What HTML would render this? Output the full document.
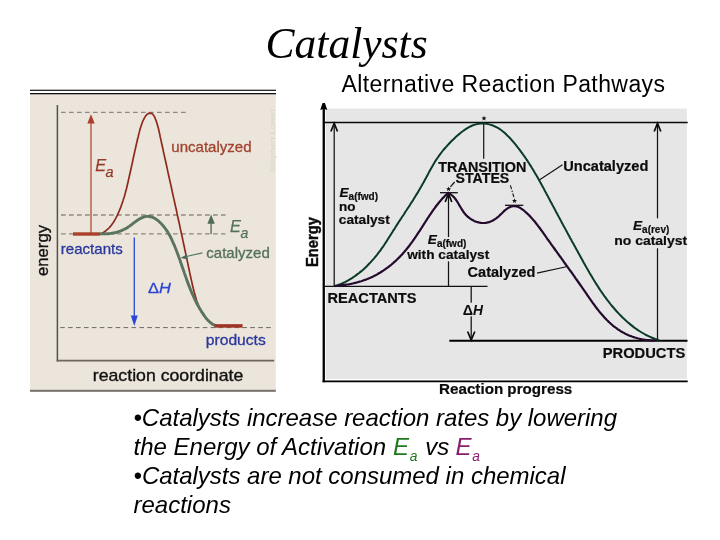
<!DOCTYPE html>
<html><head><meta charset="utf-8"><title>Catalysts</title>
<style>
html,body{margin:0;padding:0;background:#fff;}
body{width:720px;height:540px;overflow:hidden;font-family:"Liberation Sans",sans-serif;}
svg{display:block;position:absolute;left:0;top:0;will-change:transform;}
text{font-family:"Liberation Sans",sans-serif;}
.ser{font-family:"Liberation Serif",serif;}
.lb{fill:#a0442e;stroke:#a0442e;stroke-width:.3px;font-size:14.5px;}
.lg{fill:#54705e;stroke:#54705e;stroke-width:.3px;font-size:14.5px;}
.lbl{fill:#2b389c;stroke:#2b389c;stroke-width:.3px;font-size:14.5px;}
.rb{font-weight:bold;font-size:14.3px;fill:#0c0c0c;stroke:#0c0c0c;stroke-width:.2px;}
.rs{font-weight:bold;font-size:13.5px;fill:#0c0c0c;stroke:#0c0c0c;stroke-width:.2px;}
</style></head><body>
<svg width="720" height="540" viewBox="0 0 720 540">
<rect width="720" height="540" fill="#fff"/>
<!-- title -->
<text class="ser" x="265.6" y="57.5" font-size="44.5" font-style="italic" fill="#000" textLength="162" lengthAdjust="spacingAndGlyphs">Catalysts</text>
<text x="341.5" y="92.2" font-size="23" fill="#000" textLength="323.5" lengthAdjust="spacing">Alternative Reaction Pathways</text>

<!-- LEFT PANEL -->
<g id="left">
<rect x="30" y="94" width="245.8" height="296" fill="#ece5dc"/>
<rect x="30" y="89.7" width="246" height="1.2" fill="#111"/>
<rect x="30" y="93" width="246" height="1.3" fill="#111"/>
<rect x="30" y="389.8" width="245.8" height="2" fill="#76716a"/>
<!-- axes -->
<path d="M57.4 105 V361.5" fill="none" stroke="#55504a" stroke-width="1.5"/>
<path d="M56.65 360.6 H274.2" fill="none" stroke="#6e665c" stroke-width="1.9"/>
<!-- dashed -->
<g stroke="#8e887f" stroke-width="1.3" stroke-dasharray="4.7 3.3" fill="none">
<path d="M61 112.3 H186" stroke="#77726a" stroke-width="1"/>
<path d="M61 215 H225.5"/>
<path d="M61 233.9 H225.5"/>
<path d="M60.2 327.6 H272" stroke="#5e5a52" stroke-width="0.9" stroke-dasharray="4.6 3.32"/>
</g>
<!-- Ea arrow red -->
<path d="M91 234 V122" stroke="#b5624f" stroke-width="1.5" fill="none"/>
<path d="M91 114.2 L87.3 123.4 H94.7 Z" fill="#a8402a"/>
<!-- curves -->
<path d="M100.0 234.0 L101.7 233.3 L103.4 232.4 L104.9 231.5 L106.3 230.4 L107.7 229.2 L109.0 228.0 L110.2 226.6 L111.4 225.2 L112.4 223.8 L113.5 222.2 L114.4 220.7 L115.3 219.1 L116.2 217.4 L117.0 215.8 L117.8 214.1 L118.6 212.5 L119.3 210.8 L120.0 209.1 L120.7 207.4 L121.3 205.7 L121.9 204.0 L122.5 202.2 L123.1 200.5 L123.6 198.8 L124.2 197.0 L124.7 195.3 L125.2 193.5 L125.6 191.8 L126.1 190.0 L126.6 188.3 L127.0 186.5 L127.4 184.7 L127.8 183.0 L128.2 181.2 L128.6 179.4 L129.0 177.6 L129.4 175.8 L129.8 174.1 L130.2 172.3 L130.6 170.5 L131.0 168.7 L131.4 166.9 L131.8 165.1 L132.2 163.4 L132.6 161.6 L132.9 159.8 L133.3 158.0 L133.7 156.2 L134.1 154.4 L134.5 152.7 L134.9 150.9 L135.3 149.1 L135.7 147.3 L136.1 145.5 L136.5 143.8 L136.9 142.0 L137.3 140.2 L137.7 138.5 L138.2 136.7 L138.6 134.9 L139.0 133.2 L139.5 131.4 L139.9 129.7 L140.4 127.9 L141.0 126.2 L141.6 124.4 L142.2 122.7 L142.9 121.0 L143.7 119.3 L144.6 117.7 L145.6 116.0 L146.8 114.6 L148.2 113.6 L149.9 113.1 L151.5 113.4 L152.9 114.3 L153.9 115.7 L154.8 117.4 L155.5 119.2 L156.2 120.9 L156.8 122.7 L157.3 124.4 L157.8 126.2 L158.3 128.0 L158.7 129.7 L159.1 131.5 L159.5 133.3 L159.9 135.1 L160.2 136.9 L160.6 138.6 L161.0 140.4 L161.4 142.2 L161.8 144.0 L162.2 145.7 L162.6 147.5 L163.0 149.3 L163.3 151.1 L163.7 152.9 L164.1 154.6 L164.5 156.4 L164.9 158.2 L165.3 160.0 L165.7 161.8 L166.1 163.5 L166.5 165.3 L166.9 167.1 L167.3 168.9 L167.6 170.7 L168.0 172.4 L168.4 174.2 L168.8 176.0 L169.2 177.8 L169.6 179.6 L170.0 181.3 L170.4 183.1 L170.8 184.9 L171.2 186.7 L171.6 188.5 L172.0 190.2 L172.3 192.0 L172.7 193.8 L173.1 195.6 L173.5 197.4 L173.9 199.1 L174.3 200.9 L174.7 202.7 L175.1 204.5 L175.5 206.3 L175.9 208.0 L176.3 209.8 L176.7 211.6 L177.0 213.4 L177.4 215.2 L177.8 216.9 L178.2 218.7 L178.6 220.5 L179.0 222.3 L179.4 224.1 L179.8 225.9 L180.1 227.6 L180.5 229.4 L180.9 231.2 L181.3 233.0 L181.7 234.8 L182.1 236.5 L182.5 238.3 L182.8 240.1 L183.2 241.9 L183.6 243.7 L184.0 245.5 L184.4 247.2 L184.7 249.0 L185.1 250.8 L185.5 252.6 L185.9 254.4 L186.3 256.2 L186.6 258.0 L187.0 259.7 L187.4 261.5 L187.8 263.3 L188.1 265.1 L188.5 266.9 L188.9 268.7 L189.3 270.5 L189.6 272.2 L190.0 274.0 L190.4 275.8 L190.8 277.6 L191.2 279.4 L191.6 281.1 L192.0 282.9 L192.4 284.7 L192.8 286.5 L193.2 288.2 L193.7 290.0 L194.1 291.8 L194.6 293.5 L195.1 295.3 L195.6 297.0 L196.1 298.7 L196.6 300.5 L197.2 302.2 L197.9 303.9 L198.5 305.6 L199.2 307.3 L200.0 308.9 L200.8 310.6 L201.7 312.2 L202.6 313.8 L203.7 315.3 L204.7 316.8 L205.9 318.3 L207.1 319.6 L208.4 320.9 L209.8 322.1 L211.2 323.2 L212.7 324.2 L214.3 325.0 L215.9 325.7" fill="none" stroke="#8e2a1c" stroke-width="1.7"/>
<path d="M99.9 233.9 L101.3 233.9 L102.7 233.9 L104.1 233.9 L105.5 233.9 L106.8 233.8 L108.2 233.7 L109.5 233.6 L110.8 233.4 L112.1 233.2 L113.4 233.0 L114.7 232.8 L115.9 232.5 L117.2 232.1 L118.4 231.7 L119.6 231.3 L120.8 230.9 L122.0 230.4 L123.2 229.8 L124.4 229.2 L125.6 228.6 L126.8 227.9 L127.9 227.2 L129.1 226.4 L130.2 225.6 L131.4 224.8 L132.5 223.9 L133.6 223.0 L134.8 222.2 L135.9 221.3 L137.0 220.5 L138.2 219.7 L139.4 219.0 L140.5 218.4 L141.7 217.8 L142.9 217.3 L144.1 216.9 L145.4 216.6 L146.6 216.4 L147.9 216.4 L149.1 216.5 L150.3 216.7 L151.5 217.0 L152.7 217.4 L153.9 218.0 L155.0 218.6 L156.1 219.3 L157.2 220.1 L158.3 220.9 L159.3 221.8 L160.3 222.8 L161.3 223.7 L162.2 224.7 L163.1 225.8 L164.0 226.8 L164.8 227.9 L165.6 229.0 L166.4 230.1 L167.1 231.2 L167.9 232.3 L168.5 233.5 L169.2 234.6 L169.9 235.8 L170.5 237.0 L171.1 238.2 L171.7 239.4 L172.2 240.6 L172.8 241.8 L173.3 243.1 L173.9 244.3 L174.4 245.5 L174.9 246.8 L175.4 248.0 L175.9 249.2 L176.4 250.5 L176.9 251.7 L177.3 253.0 L177.8 254.2 L178.3 255.5 L178.7 256.7 L179.2 258.0 L179.6 259.2 L180.1 260.5 L180.5 261.7 L180.9 263.0 L181.4 264.3 L181.8 265.5 L182.2 266.8 L182.7 268.0 L183.1 269.3 L183.5 270.6 L184.0 271.8 L184.4 273.1 L184.8 274.3 L185.3 275.6 L185.7 276.8 L186.2 278.1 L186.6 279.4 L187.1 280.6 L187.5 281.9 L188.0 283.1 L188.4 284.4 L188.9 285.6 L189.4 286.9 L189.9 288.1 L190.4 289.3 L190.9 290.6 L191.4 291.8 L191.9 293.1 L192.5 294.3 L193.0 295.5 L193.6 296.7 L194.1 298.0 L194.7 299.2 L195.3 300.4 L195.9 301.6 L196.5 302.8 L197.1 304.0 L197.8 305.2 L198.4 306.4 L199.1 307.5 L199.8 308.7 L200.5 309.8 L201.2 311.0 L201.9 312.1 L202.6 313.2 L203.4 314.3 L204.1 315.4 L204.9 316.5 L205.7 317.6 L206.5 318.6 L207.4 319.6 L208.2 320.6 L209.2 321.5 L210.1 322.4 L211.2 323.2 L212.2 324.0 L213.4 324.6 L214.6 325.2 L216.0 325.6" fill="none" stroke="#5a7460" stroke-width="2.9"/>
<path d="M73 234 H100" stroke="#a8402a" stroke-width="3.4"/>
<path d="M214.6 325.9 H242.6" stroke="#a03424" stroke-width="3.5"/>
<!-- green Ea arrow -->
<path d="M211.1 234 V222" stroke="#6f7d6c" stroke-width="1.6"/>
<path d="M211.1 214.5 L207.4 223.8 H214.8 Z" fill="#4e6c58"/>
<!-- catalyzed leader -->
<path d="M183 257.2 L202.5 252.9" stroke="#587562" stroke-width="1.1"/>
<path d="M180.5 258 L187 254.2 L187.6 259.4 Z" fill="#4e6c58"/>
<!-- blue arrow -->
<path d="M134.3 237.5 V317" stroke="#2b46d6" stroke-width="1.3"/>
<path d="M134.3 326 L130.8 315.5 H137.8 Z" fill="#2b46d6"/>
<!-- labels -->
<text class="lb" x="171.3" y="151.5" textLength="80.3" lengthAdjust="spacingAndGlyphs">uncatalyzed</text>
<text fill="#963a28" stroke="#963a28" stroke-width="0.25" font-style="italic" font-size="16.3" x="95.2" y="170.8">E<tspan font-size="14.5" x="105.4" y="176.7">a</tspan></text>
<text fill="#54705e" stroke="#54705e" stroke-width="0.25" font-style="italic" font-size="16.3" x="230" y="231.8">E<tspan font-size="14" x="240.5" y="237.9">a</tspan></text>
<text class="lg" x="206.3" y="257.7" textLength="63.5" lengthAdjust="spacingAndGlyphs">catalyzed</text>
<text class="lbl" x="60.8" y="254" textLength="62" lengthAdjust="spacingAndGlyphs">reactants</text>
<text class="lbl" x="205.8" y="344.5" textLength="60" lengthAdjust="spacingAndGlyphs">products</text>
<text class="lbl" x="148" y="292.5" style="font-size:15.5px;fill:#2c44d4;stroke:#2c44d4" textLength="22.8" lengthAdjust="spacingAndGlyphs">Δ<tspan font-style="italic">H</tspan></text>
<text fill="#111" stroke="#111" stroke-width="0.35" font-size="17" x="92.8" y="381.4" textLength="150.5" lengthAdjust="spacingAndGlyphs">reaction coordinate</text>
<text fill="#111" stroke="#111" stroke-width="0.35" font-size="17" transform="translate(48 276) rotate(-90)" textLength="51" lengthAdjust="spacingAndGlyphs">energy</text>
<text fill="#d4d8be" font-size="8" transform="translate(274.6 172.6) rotate(-90)" textLength="64" lengthAdjust="spacingAndGlyphs">Stephen Lower</text>
</g>

<!-- RIGHT PANEL -->
<g id="right">
<rect x="325.6" y="108.6" width="361.3" height="270.3" fill="#e6e6e6"/>
<!-- axes -->
<path d="M323.75 108 V382.2" fill="none" stroke="#000" stroke-width="2.3"/>
<path d="M322.6 381.4 H687.7" fill="none" stroke="#000" stroke-width="1.6"/>
<path d="M322.6 103 H324.9 L327.3 109.9 L323.75 108.7 L320.2 109.9 Z" fill="#000"/>
<path d="M324 122.5 H687.7" stroke="#0a0a0a" stroke-width="1.4"/>
<!-- left thin arrow -->
<path d="M334.2 286 V123.5" stroke="#111" stroke-width="1.25"/>
<path d="M330.9 131.5 L334.2 123.3 L337.5 131.5" stroke="#0a0a0a" stroke-width="1.7" fill="none"/>
<!-- right thin arrow -->
<path d="M657.5 340 V123.5" stroke="#111" stroke-width="1.25"/>
<path d="M654.2 131.5 L657.5 123.3 L660.8 131.5" stroke="#0a0a0a" stroke-width="1.7" fill="none"/>
<!-- reactants / products lines -->
<path d="M324 286.3 H487.5" stroke="#111" stroke-width="1.3"/>
<path d="M449.3 340.8 H687.5" stroke="#000" stroke-width="1.9"/>
<!-- dH -->
<path d="M471.2 286.3 V339.5" stroke="#111" stroke-width="1.25"/>
<path d="M467.6 331.5 L471.2 340 L474.8 331.5" stroke="#0a0a0a" stroke-width="1.7" fill="none"/>
<!-- Ea with catalyst arrow -->
<path d="M448.5 286.3 V194" stroke="#111" stroke-width="1.25"/>
<path d="M445.2 202 L448.5 193.5 L451.8 202" stroke="#0a0a0a" stroke-width="1.7" fill="none"/>
<path d="M440 192.7 H457.8" stroke="#111" stroke-width="1.3"/>
<path d="M505 205.3 H523.3" stroke="#111" stroke-width="1.3"/>
<!-- peak line -->
<path d="M483.7 123.5 V158.7" stroke="#111" stroke-width="1.2"/>
<!-- curves -->
<path d="M334.5 286.4 L336.4 285.7 L338.3 285.0 L340.1 284.3 L342.0 283.5 L343.8 282.6 L345.5 281.8 L347.3 280.8 L349.0 279.9 L350.7 278.8 L352.4 277.8 L354.0 276.7 L355.6 275.6 L357.2 274.4 L358.8 273.2 L360.4 271.9 L361.9 270.7 L363.4 269.4 L364.9 268.0 L366.3 266.7 L367.7 265.3 L369.1 263.8 L370.5 262.4 L371.8 260.9 L373.2 259.4 L374.5 257.9 L375.7 256.4 L377.0 254.8 L378.2 253.2 L379.4 251.7 L380.6 250.1 L381.7 248.4 L382.9 246.8 L384.0 245.2 L385.1 243.5 L386.2 241.9 L387.2 240.2 L388.3 238.5 L389.4 236.8 L390.4 235.2 L391.5 233.5 L392.6 231.8 L393.6 230.1 L394.7 228.5 L395.7 226.8 L396.8 225.1 L397.9 223.4 L398.9 221.8 L400.0 220.1 L401.1 218.5 L402.2 216.8 L403.3 215.2 L404.4 213.5 L405.4 211.8 L406.5 210.2 L407.6 208.5 L408.7 206.9 L409.8 205.2 L410.8 203.5 L411.9 201.9 L413.0 200.2 L414.0 198.5 L415.1 196.8 L416.1 195.1 L417.2 193.4 L418.2 191.7 L419.2 190.0 L420.2 188.3 L421.2 186.6 L422.2 184.8 L423.2 183.1 L424.2 181.3 L425.1 179.5 L426.1 177.8 L427.0 176.0 L428.0 174.2 L428.9 172.4 L429.8 170.7 L430.8 168.9 L431.8 167.2 L432.8 165.5 L433.8 163.8 L434.8 162.1 L435.8 160.4 L436.9 158.8 L438.0 157.2 L439.1 155.6 L440.2 154.1 L441.4 152.5 L442.6 151.0 L443.8 149.5 L445.1 148.0 L446.4 146.6 L447.7 145.1 L449.0 143.7 L450.4 142.2 L451.8 140.8 L453.3 139.4 L454.8 138.0 L456.3 136.6 L457.8 135.2 L459.4 133.9 L461.0 132.5 L462.7 131.3 L464.3 130.1 L466.1 128.9 L467.8 127.8 L469.5 126.9 L471.3 126.0 L473.1 125.2 L475.0 124.6 L476.8 124.1 L478.7 123.7 L480.6 123.5 L482.5 123.4 L484.4 123.5 L486.3 123.7 L488.3 124.1 L490.2 124.6 L492.0 125.2 L493.9 126.0 L495.7 126.8 L497.4 127.7 L499.1 128.7 L500.7 129.8 L502.3 131.0 L503.9 132.3 L505.4 133.6 L506.8 135.0 L508.3 136.4 L509.7 137.8 L511.0 139.3 L512.4 140.8 L513.7 142.3 L515.0 143.9 L516.2 145.4 L517.5 147.0 L518.7 148.6 L519.9 150.2 L521.1 151.8 L522.3 153.4 L523.4 155.0 L524.6 156.6 L525.7 158.3 L526.8 159.9 L527.9 161.6 L529.0 163.2 L530.0 164.9 L531.1 166.6 L532.1 168.3 L533.2 170.0 L534.2 171.7 L535.2 173.4 L536.2 175.1 L537.2 176.8 L538.2 178.5 L539.1 180.3 L540.1 182.0 L541.1 183.7 L542.0 185.5 L543.0 187.2 L543.9 188.9 L544.8 190.7 L545.8 192.4 L546.7 194.2 L547.7 195.9 L548.6 197.7 L549.5 199.4 L550.4 201.2 L551.4 202.9 L552.3 204.7 L553.2 206.4 L554.2 208.2 L555.1 209.9 L556.0 211.7 L557.0 213.4 L557.9 215.2 L558.8 216.9 L559.8 218.7 L560.7 220.4 L561.6 222.2 L562.6 223.9 L563.5 225.7 L564.5 227.4 L565.4 229.1 L566.4 230.9 L567.3 232.6 L568.2 234.4 L569.2 236.1 L570.1 237.9 L571.1 239.6 L572.0 241.4 L573.0 243.1 L573.9 244.8 L574.9 246.6 L575.8 248.3 L576.8 250.1 L577.8 251.8 L578.7 253.6 L579.7 255.3 L580.6 257.0 L581.6 258.8 L582.6 260.5 L583.5 262.3 L584.5 264.0 L585.5 265.7 L586.5 267.5 L587.5 269.2 L588.5 270.9 L589.5 272.7 L590.5 274.4 L591.5 276.1 L592.5 277.8 L593.5 279.5 L594.6 281.2 L595.6 282.9 L596.7 284.6 L597.8 286.3 L598.8 287.9 L599.9 289.6 L601.0 291.2 L602.2 292.9 L603.3 294.5 L604.4 296.1 L605.6 297.7 L606.8 299.3 L608.0 300.9 L609.2 302.4 L610.4 304.0 L611.6 305.5 L612.9 307.0 L614.2 308.5 L615.5 310.0 L616.8 311.5 L618.1 312.9 L619.5 314.4 L620.9 315.8 L622.3 317.2 L623.7 318.6 L625.2 319.9 L626.6 321.3 L628.1 322.6 L629.7 323.9 L631.2 325.1 L632.8 326.4 L634.3 327.6 L636.0 328.7 L637.6 329.9 L639.3 331.0 L640.9 332.0 L642.6 333.0 L644.4 334.0 L646.1 335.0 L647.9 335.8 L649.7 336.7 L651.5 337.5 L653.4 338.2 L655.2 338.9 L657.1 339.5 L659.1 340.1" fill="none" stroke="#0a3a28" stroke-width="2"/>
<path d="M334.3 285.9 L335.7 285.9 L337.0 285.8 L338.3 285.7 L339.6 285.5 L340.9 285.4 L342.2 285.2 L343.5 285.1 L344.8 284.9 L346.1 284.7 L347.4 284.5 L348.7 284.3 L350.0 284.0 L351.2 283.8 L352.5 283.5 L353.8 283.2 L355.1 282.9 L356.3 282.6 L357.6 282.3 L358.8 281.9 L360.1 281.5 L361.3 281.2 L362.5 280.8 L363.8 280.3 L365.0 279.9 L366.2 279.4 L367.4 279.0 L368.6 278.5 L369.8 278.0 L370.9 277.5 L372.1 276.9 L373.3 276.4 L374.4 275.8 L375.6 275.2 L376.7 274.6 L377.8 274.0 L378.9 273.3 L380.0 272.7 L381.1 272.0 L382.2 271.3 L383.3 270.6 L384.3 269.9 L385.4 269.1 L386.4 268.4 L387.5 267.6 L388.5 266.9 L389.5 266.1 L390.5 265.3 L391.5 264.5 L392.5 263.6 L393.5 262.8 L394.4 261.9 L395.4 261.1 L396.3 260.2 L397.3 259.3 L398.2 258.4 L399.1 257.5 L400.0 256.6 L400.9 255.6 L401.8 254.7 L402.7 253.7 L403.5 252.8 L404.4 251.8 L405.2 250.8 L406.1 249.8 L406.9 248.8 L407.7 247.8 L408.5 246.8 L409.3 245.8 L410.1 244.7 L410.8 243.7 L411.6 242.6 L412.4 241.6 L413.1 240.5 L413.9 239.4 L414.6 238.4 L415.3 237.3 L416.1 236.2 L416.8 235.1 L417.5 234.0 L418.2 233.0 L418.9 231.9 L419.7 230.8 L420.4 229.7 L421.1 228.6 L421.8 227.5 L422.5 226.4 L423.2 225.3 L423.9 224.2 L424.6 223.1 L425.3 222.0 L426.0 220.9 L426.7 219.8 L427.4 218.7 L428.1 217.6 L428.8 216.6 L429.5 215.5 L430.3 214.4 L431.0 213.3 L431.7 212.3 L432.5 211.2 L433.2 210.2 L433.9 209.1 L434.7 208.1 L435.5 207.0 L436.2 206.0 L437.0 205.0 L437.8 204.0 L438.6 203.0 L439.4 202.0 L440.3 201.0 L441.1 200.1 L441.9 199.1 L442.8 198.1 L443.7 197.2 L444.6 196.3 L445.5 195.4 L446.4 194.5 L447.3 193.6 L448.5 193.0 L449.6 193.6 L450.6 194.2 L451.5 195.0 L452.4 195.8 L453.3 196.6 L454.1 197.4 L454.8 198.3 L455.6 199.3 L456.3 200.2 L456.9 201.2 L457.6 202.2 L458.2 203.3 L458.8 204.3 L459.4 205.4 L460.0 206.4 L460.7 207.5 L461.3 208.5 L461.9 209.5 L462.6 210.5 L463.2 211.5 L463.9 212.5 L464.7 213.5 L465.5 214.4 L466.3 215.3 L467.1 216.1 L468.0 217.0 L469.0 217.7 L470.0 218.5 L471.0 219.1 L472.0 219.8 L473.0 220.3 L474.1 220.9 L475.2 221.4 L476.3 221.8 L477.5 222.1 L478.6 222.4 L479.8 222.7 L480.9 222.9 L482.1 223.0 L483.3 223.0 L484.4 223.0 L485.6 222.9 L486.7 222.7 L487.9 222.4 L489.0 222.1 L490.1 221.7 L491.2 221.3 L492.3 220.7 L493.4 220.2 L494.4 219.5 L495.4 218.9 L496.5 218.1 L497.4 217.4 L498.4 216.6 L499.3 215.8 L500.2 214.9 L501.1 214.0 L502.0 213.2 L502.9 212.3 L503.7 211.4 L504.6 210.6 L505.5 209.8 L506.5 209.1 L507.5 208.4 L508.5 207.8 L509.6 207.3 L510.7 206.8 L511.8 206.5 L512.9 206.2 L514.1 206.1 L515.2 206.1 L516.3 206.3 L517.4 206.6 L518.4 207.0 L519.5 207.5 L520.5 208.1 L521.5 208.8 L522.5 209.5 L523.4 210.2 L524.4 211.0 L525.3 211.8 L526.2 212.6 L527.1 213.4 L528.0 214.2 L528.9 215.1 L529.7 215.9 L530.5 216.8 L531.3 217.7 L532.2 218.6 L532.9 219.5 L533.7 220.4 L534.5 221.3 L535.3 222.3 L536.0 223.2 L536.8 224.2 L537.5 225.1 L538.2 226.1 L538.9 227.0 L539.7 228.0 L540.4 229.0 L541.1 230.0 L541.8 230.9 L542.5 231.9 L543.2 232.9 L543.9 233.9 L544.6 234.9 L545.3 235.9 L546.0 236.8 L546.6 237.8 L547.3 238.8 L548.0 239.8 L548.7 240.7 L549.4 241.7 L550.1 242.7 L550.8 243.7 L551.5 244.6 L552.2 245.6 L552.9 246.6 L553.6 247.5 L554.3 248.5 L555.0 249.5 L555.7 250.5 L556.4 251.4 L557.1 252.4 L557.8 253.4 L558.5 254.3 L559.2 255.3 L559.9 256.3 L560.6 257.2 L561.3 258.2 L562.0 259.2 L562.7 260.1 L563.4 261.1 L564.0 262.1 L564.7 263.0 L565.4 264.0 L566.1 265.0 L566.8 265.9 L567.5 266.9 L568.2 267.9 L568.9 268.8 L569.6 269.8 L570.3 270.8 L571.0 271.7 L571.7 272.7 L572.4 273.7 L573.1 274.7 L573.8 275.6 L574.5 276.6 L575.1 277.6 L575.8 278.6 L576.5 279.5 L577.2 280.5 L577.9 281.5 L578.6 282.5 L579.3 283.5 L580.0 284.5 L580.7 285.5 L581.4 286.4 L582.0 287.4 L582.7 288.4 L583.4 289.4 L584.1 290.4 L584.8 291.4 L585.5 292.4 L586.2 293.4 L586.9 294.4 L587.5 295.4 L588.2 296.4 L588.9 297.4 L589.6 298.4 L590.3 299.4 L591.0 300.4 L591.7 301.4 L592.4 302.4 L593.1 303.4 L593.8 304.3 L594.6 305.3 L595.3 306.3 L596.0 307.3 L596.7 308.2 L597.5 309.2 L598.2 310.1 L599.0 311.1 L599.7 312.0 L600.5 312.9 L601.2 313.8 L602.0 314.7 L602.8 315.6 L603.6 316.5 L604.4 317.4 L605.2 318.3 L606.0 319.1 L606.8 320.0 L607.7 320.8 L608.5 321.6 L609.4 322.5 L610.3 323.2 L611.1 324.0 L612.0 324.8 L612.9 325.6 L613.8 326.3 L614.8 327.0 L615.7 327.7 L616.7 328.4 L617.6 329.1 L618.6 329.8 L619.6 330.4 L620.6 331.1 L621.6 331.7 L622.6 332.3 L623.7 332.8 L624.8 333.4 L625.8 333.9 L626.9 334.4 L628.0 334.9 L629.1 335.4 L630.3 335.9 L631.4 336.3 L632.5 336.7 L633.7 337.1 L634.9 337.5 L636.0 337.8 L637.2 338.2 L638.4 338.5 L639.6 338.8 L640.7 339.0 L641.9 339.3 L643.1 339.5 L644.3 339.7 L645.5 339.8 L646.7 340.0 L647.9 340.1 L649.1 340.2 L650.3 340.3 L651.4 340.3 L652.6 340.4 L653.8 340.4 L655.0 340.4" fill="none" stroke="#240a2c" stroke-width="2.2" stroke-linejoin="round"/>
<g fill="#111" id="stars">
<path id="st" d="M0 -2.6 L0.7 -0.8 L2.5 -0.8 L1.1 0.4 L1.6 2.2 L0 1.1 L-1.6 2.2 L-1.1 0.4 L-2.5 -0.8 L-0.7 -0.8 Z" transform="translate(484 118.3)"/>
<path d="M0 -2.6 L0.7 -0.8 L2.5 -0.8 L1.1 0.4 L1.6 2.2 L0 1.1 L-1.6 2.2 L-1.1 0.4 L-2.5 -0.8 L-0.7 -0.8 Z" transform="translate(448.6 189)"/>
<path d="M0 -2.6 L0.7 -0.8 L2.5 -0.8 L1.1 0.4 L1.6 2.2 L0 1.1 L-1.6 2.2 L-1.1 0.4 L-2.5 -0.8 L-0.7 -0.8 Z" transform="translate(514.5 200.8)"/>
</g>
<path d="M454.6 182 L450.4 186.8" stroke="#111" stroke-width="1.2"/>
<path d="M510.4 185.3 L513.8 197" stroke="#111" stroke-width="1.1" stroke-dasharray="4 1.5 1.5 1.5"/>
<!-- labels -->
<text class="rb" x="438.3" y="171.5" textLength="88" lengthAdjust="spacingAndGlyphs">TRANSITION</text>
<text class="rb" x="455.5" y="183.2" textLength="53.8" lengthAdjust="spacingAndGlyphs">STATES</text>
<text class="rb" x="563.2" y="170.6" textLength="85.2" lengthAdjust="spacingAndGlyphs">Uncatalyzed</text>
<path d="M562.5 164.7 L539.7 179.8" stroke="#111" stroke-width="1.1"/>
<text class="rs" x="339.5" y="197.2"><tspan font-style="italic" font-size="13.6">E</tspan><tspan font-size="10" dy="3">a(fwd)</tspan></text>
<text class="rs" x="339" y="210.5">no</text>
<text class="rs" x="338.8" y="224" textLength="51" lengthAdjust="spacingAndGlyphs">catalyst</text>
<rect x="446.2" y="237" width="5" height="24.4" fill="#e6e6e6"/>
<text class="rs" x="427.8" y="244.4"><tspan font-style="italic" font-size="13.6">E</tspan><tspan font-size="10" dy="3">a(fwd)</tspan></text>
<text class="rs" x="407.2" y="259.3" textLength="82" lengthAdjust="spacingAndGlyphs">with catalyst</text>
<text class="rb" x="467.6" y="276.7" textLength="67.8" lengthAdjust="spacingAndGlyphs">Catalyzed</text>
<path d="M537 273.1 L566.3 266.7" stroke="#111" stroke-width="1.1"/>
<text class="rb" x="327.5" y="303" textLength="89" lengthAdjust="spacingAndGlyphs">REACTANTS</text>
<rect x="469" y="302.7" width="5" height="13.6" fill="#e6e6e6"/>
<text x="462.8" y="314.8" style="font-size:14.3px;fill:#0c0c0c;font-weight:bold">Δ<tspan x="473.1" font-style="italic" style="font-size:13.8px">H</tspan></text>
<text class="rb" x="602.7" y="357.6" textLength="82.6" lengthAdjust="spacingAndGlyphs">PRODUCTS</text>
<rect x="655" y="218.3" width="5" height="30" fill="#e6e6e6"/>
<text class="rs" x="633" y="230"><tspan font-style="italic" font-size="13.6">E</tspan><tspan font-size="10" dy="3">a(rev)</tspan></text>
<text class="rs" x="614.2" y="245" textLength="73" lengthAdjust="spacingAndGlyphs">no catalyst</text>
<text class="rb" x="439.1" y="394" textLength="133.2" lengthAdjust="spacingAndGlyphs">Reaction progress</text>
<text class="rb" style="font-size:15.6px;stroke-width:.4px" transform="translate(317.9 267.1) rotate(-90)" textLength="50" lengthAdjust="spacingAndGlyphs">Energy</text>
</g>

<!-- body text -->
<g font-style="italic" font-size="24" fill="#000">
<text x="133.5" y="425.6" textLength="483.5" lengthAdjust="spacing">•Catalysts increase reaction rates by lowering</text>
<text x="133.5" y="454.6">the Energy of Activation</text>
<text x="393.1" y="454.6" fill="#1c7a1c">E<tspan font-size="13.8" x="409.8" y="460.8">a</tspan></text>
<text x="425.3" y="454.6">vs</text>
<text x="455.5" y="454.6" fill="#8a1c6e">E<tspan font-size="13.8" x="472.2" y="460.8">a</tspan></text>
<text x="133.5" y="483.5" textLength="432" lengthAdjust="spacing">•Catalysts are not consumed in chemical</text>
<text x="133.5" y="512.5">reactions</text>
</g>
</svg>
</body></html>
